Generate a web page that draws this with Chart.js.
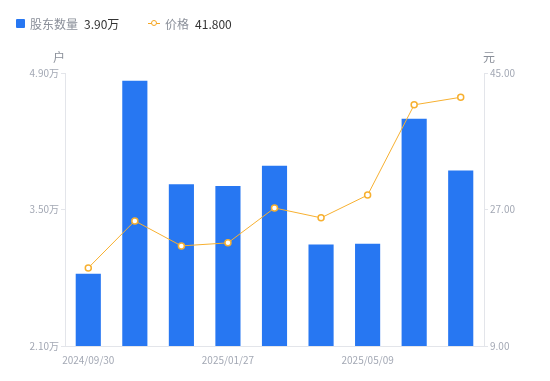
<!DOCTYPE html>
<html>
<head>
<meta charset="utf-8">
<script src="https://cdn.jsdelivr.net/npm/chart.js@4.4.0/dist/chart.umd.min.js"></script>
<style>
body { margin: 0; background: #fff; font-family: "Noto Sans CJK SC", "Noto Sans", sans-serif; }
#wrap { position: relative; width: 550px; height: 381px; }
#legend { position: absolute; left: 16px; top: 13px; font-size: 12px; color: #8a8f99; white-space: nowrap; }
#legend span { display: inline-block; vertical-align: middle; }
.val { color: #333; margin-left: 6px; }
</style>
</head>
<body>
<div id="wrap">
<canvas id="chart" width="550" height="381"></canvas>
<div id="legend">
  <span style="width:9px;height:9px;background:#2777f2;border-radius:1px;margin-right:5px"></span><span>股东数量</span><span class="val">3.90万</span>
  <span style="width:12px;margin-left:26px;margin-right:5px;position:relative;height:9px">
    <span style="position:absolute;left:0;top:4px;width:12px;height:1px;background:#f5a623"></span>
    <span style="position:absolute;left:3px;top:1px;width:4px;height:4px;border:1.5px solid #f5a623;border-radius:50%;background:#fff"></span>
  </span><span>价格</span><span class="val">41.800</span>
</div>
</div>
<script>
// 日期
var dates = ['2024/09/30', '2024/11/20', '2024/12/31', '2025/01/27', '2025/02/28', '2025/03/31', '2025/05/09', '2025/06/30', '2025/07/31'];
// 股东数量 (万户)
var holders = [2.84, 4.82, 3.76, 3.74, 3.95, 3.14, 3.15, 4.43, 3.90];
// 价格 (元)
var prices = [19.3, 25.5, 22.2, 22.6, 27.2, 25.9, 28.9, 40.8, 41.8];
var leftTicks = [2.10, 3.50, 4.90];
var rightTicks = [9, 27, 45];
var shownLabels = [0, 3, 6];

var tickColor = '#a3a8b4';
var axisColor = '#e3e5ea';

// 户 / 元 单位
var unitPlugin = {
    id: 'units',
    afterDraw: function (chart) {
        var c = chart.ctx;
        c.save();
        c.font = '12px "Noto Sans CJK SC"';
        c.fillStyle = '#8a8f99';
        c.textAlign = 'center';
        c.textBaseline = 'middle';
        c.fillText('户', chart.scales.y.right - 6, 57);
        c.fillText('元', chart.scales.y1.left + 5, 57);
        c.restore();
    }
};

const ctx = document.getElementById('chart');
const chart = new Chart(ctx, {
    type: 'bar',
    data: {
        labels: dates,
        datasets: [{
            type: 'line',
            label: '价格',
            data: prices,
            yAxisID: 'y1',
            borderColor: '#f7b030',
            borderWidth: 1,
            pointRadius: 3,
            pointBorderWidth: 1.5,
            pointBackgroundColor: '#fff',
            pointBorderColor: '#f7b030',
            tension: 0,
            order: 0
        }, {
            label: '股东数量',
            data: holders,
            yAxisID: 'y',
            backgroundColor: '#2777f2',
            barPercentage: 0.54,
            categoryPercentage: 1,
            order: 1
        }]
    },
    options: {
        responsive: false,
        animation: false,
        layout: { padding: { top: 73, left: 0, right: 0, bottom: 0 } },
        plugins: { legend: { display: false }, tooltip: { enabled: false } },
        scales: {
            x: {
                offset: true,
                grid: { display: false },
                border: { color: axisColor },
                afterFit: function (s) { s.height = 35; },
                ticks: {
                    autoSkip: false,
                    maxRotation: 0,
                    color: tickColor,
                    font: { size: 10, family: 'Noto Sans CJK SC' },
                    padding: 0,
                    callback: function (v, i) { return shownLabels.indexOf(i) >= 0 ? dates[i] : ''; }
                }
            },
            y: {
                position: 'left',
                min: 2.1, max: 4.9,
                afterFit: function (s) { s.width = 65; },
                afterBuildTicks: function (s) { s.ticks = leftTicks.map(function (v) { return { value: v }; }); },
                grid: { drawOnChartArea: false, tickLength: 4, color: axisColor },
                border: { color: axisColor },
                ticks: {
                    color: tickColor,
                    font: { size: 10, family: 'Noto Sans CJK SC' },
                    padding: 2,
                    callback: function (v) { return v.toFixed(2) + '万'; }
                }
            },
            y1: {
                position: 'right',
                min: 9, max: 45,
                afterFit: function (s) { s.width = 66; },
                afterBuildTicks: function (s) { s.ticks = rightTicks.map(function (v) { return { value: v }; }); },
                grid: { drawOnChartArea: false, tickLength: 4, color: axisColor },
                border: { color: axisColor },
                ticks: {
                    color: tickColor,
                    font: { size: 10, family: 'Noto Sans CJK SC' },
                    padding: 2,
                    callback: function (v) { return v.toFixed(2); }
                }
            }
        }
    },
    plugins: [unitPlugin]
});
</script>
</body>
</html>
